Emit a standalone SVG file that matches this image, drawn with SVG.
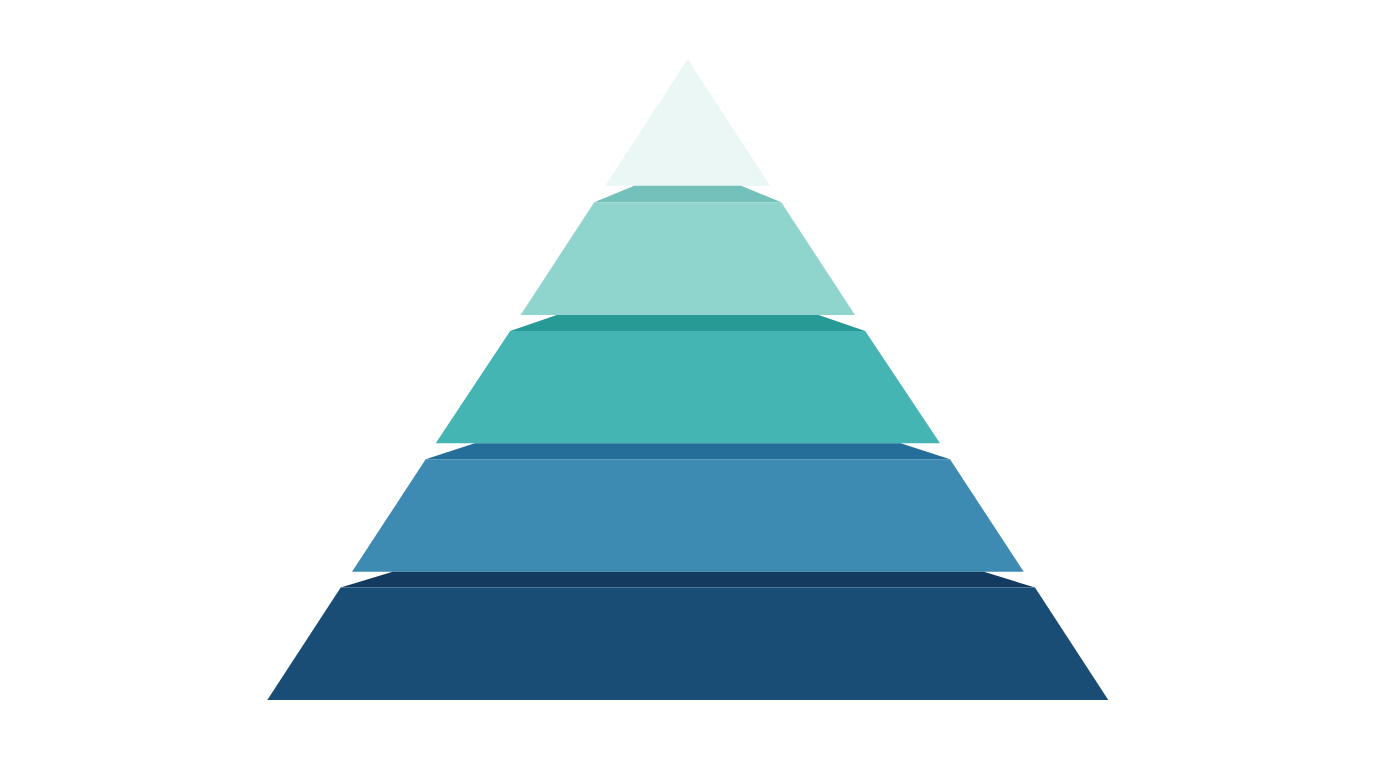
<svg xmlns="http://www.w3.org/2000/svg" width="1376" height="768" viewBox="0 0 1376 768">
<style>
.l1{fill:#EBF7F5}
.b2{fill:#74C0BA}.f2{fill:#90D4CE}
.b3{fill:#289A95}.f3{fill:#45B5B3}
.b4{fill:#256E99}.f4{fill:#3D8AB2}
.b5{fill:#133B5F}.f5{fill:#1A4D76}
</style>
<rect width="1376" height="768" fill="#FFFFFF"/>
<g id="layer1">
<polygon class="l1" points="687.7,59.3 770.2,185.7 605.2,185.7"/>
</g>
<g id="layer2">
<polygon class="b2" points="634.2,185.7 741.2,185.7 781.2,202.3 594.2,202.3"/>
<polygon class="f2" points="594.2,202.3 781.2,202.3 855,315 520.6,315"/>
</g>
<g id="layer3">
<polygon class="b3" points="556.7,315 818.7,315 865.2,331 510.2,331"/>
<polygon class="f3" points="510.2,331 865.2,331 940,443.3 435.7,443.3"/>
</g>
<g id="layer4">
<polygon class="b4" points="474.7,443.3 900.7,443.3 950,459.3 425.7,459.3"/>
<polygon class="f4" points="425.7,459.3 950,459.3 1023.7,571.7 352,571.7"/>
</g>
<g id="layer5">
<polygon class="b5" points="392.7,571.7 984,571.7 1035,587.6 340.7,587.6"/>
<polygon class="f5" points="340.7,587.6 1035,587.6 1108.3,700 267.3,700"/>
</g>
</svg>
